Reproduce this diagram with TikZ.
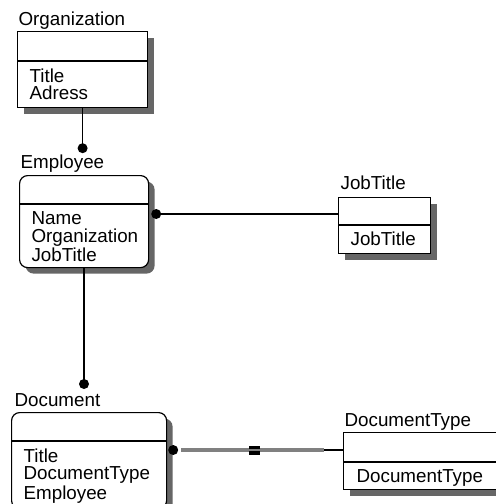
\documentclass[tikz,border=0pt]{standalone}
\usepackage{fontspec}
\setmainfont{Liberation Sans}
\usetikzlibrary{positioning, calc, shadows}

\begin{document}
\begin{tikzpicture}[x=0.5pt, y=-0.5pt, line width=0.6pt,
  entitybox/.style={draw, fill=white, anchor=north west, inner sep=0pt,
    drop shadow={shadow xshift=3pt, shadow yshift=-3pt, fill=black!60, opacity=1}},
  roundbox/.style={entitybox, rounded corners=4pt},
  entlabel/.style={anchor=base west, inner sep=0pt, font=\fontsize{9.4}{9.4}\selectfont},
  attrtext/.style={anchor=north west, inner sep=0pt, align=left, font=\fontsize{9.4}{8.75}\selectfont},
  relline/.style={draw, line width=0.6pt},
  reldot/.style={fill, radius=2.5pt},
  idline/.style={draw=black!50, line width=2pt},
]
  \useasboundingbox (0,0) rectangle (496,504);

  % Organization
  \node[entitybox, minimum width=65pt, minimum height=38pt] (org) at (17,31) {};
  \draw ($(org.north west)+(0,30)$) -- ($(org.north east)+(0,30)$);
  \node[entlabel] (orglabel) at ($(org.north west)+(1,-6)$) {Organization};
  \node[attrtext] (orgattr) at ($(org.north west)+(12,37)$) {Title\\Adress};

  % Employee
  \node[roundbox, minimum width=64.5pt, minimum height=46pt] (emp) at (19,175) {};
  \draw ($(emp.north west)+(0,29)$) -- ($(emp.north east)+(0,29)$);
  \node[entlabel] (emplabel) at ($(emp.north west)+(1,-7)$) {Employee};
  \node[attrtext] (empattr) at ($(emp.north west)+(12,36)$) {Name\\Organization\\JobTitle};

  % JobTitle
  \node[entitybox, minimum width=46pt, minimum height=28pt] (job) at (338,197) {};
  \draw ($(job.north west)+(0,28)$) -- ($(job.north east)+(0,28)$);
  \node[entlabel] (joblabel) at ($(job.north west)+(2,-8)$) {JobTitle};
  \node[attrtext] (jobattr) at ($(job.north west)+(12,34)$) {JobTitle};

  % Document
  \node[roundbox, minimum width=77.5pt, minimum height=48pt] (doc) at (11,412) {};
  \draw ($(doc.north west)+(0,29)$) -- ($(doc.north east)+(0,29)$);
  \node[entlabel] (doclabel) at ($(doc.north west)+(3,-6)$) {Document};
  \node[attrtext] (docattr) at ($(doc.north west)+(12,36)$) {Title\\DocumentType\\Employee};

  % DocumentType
  \node[entitybox, minimum width=80pt, minimum height=28.5pt] (dtype) at (343,432) {};
  \draw ($(dtype.north west)+(0,30)$) -- ($(dtype.north east)+(0,30)$);
  \node[entlabel] (dtypelabel) at ($(dtype.north west)+(1,-6)$) {DocumentType};
  \node[attrtext] (dtypeattr) at ($(dtype.north west)+(13,37)$) {DocumentType};

  % Organization -- Employee
  \coordinate (empdot) at ($(org.south)+(0,40)$);
  \draw[relline] (org.south) -- (empdot);
  \fill[reldot] (empdot) circle;

  % Employee -- JobTitle
  \coordinate (jobdot) at ($(emp.north east)+(7,39)$);
  \draw[relline] (jobdot) -- (jobdot -| job.west);
  \fill[reldot] (jobdot) circle;

  % Employee -- Document
  \coordinate (docdot) at ($(doc.north west)+(73,-28)$);
  \draw[relline] (docdot |- emp.south) -- (docdot);
  \fill[reldot] (docdot) circle;

  % Document -- DocumentType
  \coordinate (typedot) at ($(doc.north east)+(6,38)$);
  \coordinate (grayend) at ($(typedot -| dtype.west)+(-19,0)$);
  \draw[idline] ($(typedot)+(8,0)$) -- (grayend);
  \draw[relline] (grayend) -- (typedot -| dtype.west);
  \node[fill=black, inner sep=0pt, minimum width=5.5pt, minimum height=4.5pt] (typemark) at ($(typedot)!0.54!(grayend)$) {};
  \draw[draw=black!50, line width=1pt] (typemark.west) -- (typemark.east);
  \fill[reldot] (typedot) circle;
\end{tikzpicture}
\end{document}
